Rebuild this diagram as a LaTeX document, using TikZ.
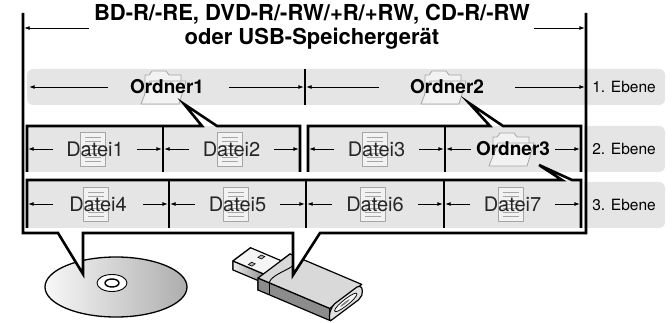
\documentclass[tikz,border=0pt]{standalone}
\usepackage{fontspec}
\setmainfont{TeX Gyre Heros}
\usetikzlibrary{arrows.meta,calc}
\begin{document}
\begin{tikzpicture}[x=1pt,y=-1pt,
  dim/.style={-{Latex[length=5.5pt,width=4pt]}, line width=0.9pt, shorten >=1.2pt},
  tick/.style={line width=1.1pt},
  heavy/.style={line width=2.6pt, line join=miter, line cap=butt},
  rowbg/.style={fill=black!10},
  lvl/.style={font=\fontsize{15.5}{15.5}\selectfont, inner sep=0pt},
  fname/.style={font=\fontsize{20}{20}\selectfont, text=black!85, inner sep=0pt},
  dname/.style={font=\fontsize{19}{19}\selectfont\bfseries, inner sep=0pt},
  icon/.style={draw=black!35, fill=black!5, line width=0.8pt, line join=round},
  titletext/.style={font=\fontsize{22}{24}\selectfont\bfseries, align=center, inner sep=0pt},
  usbedge/.style={draw=black, line width=1.2pt, line join=round},
  folder/.pic={
    \filldraw[icon] (-18,17) -- (-18,-12) -- (-14,-12) -- (-11,-16) -- (3,-16) -- (6,-12) -- (18,-12) -- (18,-6);
    \filldraw[icon] (-22,17) -- (16,17) -- (23,-6) -- (-13,-6) -- cycle;
  },
  doc/.pic={
    \filldraw[icon] (-12.5,-17) rectangle (12.5,17);
    \foreach \yy in {-12,-8,-4,0,4,8,12}
      \draw[draw=black!35, line width=0.8pt] (-8,\yy) -- (8,\yy);
  }
]
\useasboundingbox (0,0) rectangle (672,323);

% ---------- level bands
\fill[rowbg, rounded corners=6pt] (27,69) rectangle (665,105);
\fill[rowbg] (27,126) rectangle (300,172);
\fill[rowbg] (308,126) rectangle (581,172);
\fill[rowbg, rounded corners=6pt] (584,126) rectangle (665,172);
\fill[rowbg] (584,126) rectangle (594,172);
\fill[rowbg] (27,180) rectangle (581,228);
\fill[rowbg, rounded corners=6pt] (584,182) rectangle (665,228);
\fill[rowbg] (584,182) rectangle (594,228);

% ---------- cell boundaries
\coordinate (r1a) at (28,87);
\coordinate (r1b) at (305,87);
\coordinate (r1c) at (586,87);
\coordinate (p0) at (27,149);
\coordinate (p1) at (163,149);
\coordinate (p2) at (300,149);
\coordinate (p3) at (308,149);
\coordinate (p4) at (445,149);
\coordinate (p5) at (581,149);
\coordinate (q0) at (27,204);
\coordinate (q1) at (169,204);
\coordinate (q2) at (306,204);
\coordinate (q3) at (444,204);
\coordinate (q4) at (581,204);

% ---------- icons
\pic at (163,87) {folder};
\pic at (443,87) {folder};
\pic at ($(p4)!0.5!(p5)+(-2,0)$) {folder};
\pic at ($(p0)!0.5!(p1)+(-2,0)$) {doc};
\pic at ($(p1)!0.5!(p2)+(-2,0)$) {doc};
\pic at ($(p3)!0.5!(p4)+(-2,0)$) {doc};
\pic at ($(q0)!0.5!(q1)+(-2,0)$) {doc};
\pic at ($(q1)!0.5!(q2)+(-2,0)$) {doc};
\pic at ($(q2)!0.5!(q3)+(-2,0)$) {doc};
\pic at ($(q3)!0.5!(q4)+(-2,0)$) {doc};

% ---------- names
\node[dname] (o1) at (167,87) {Ordner1};
\node[dname] (o2) at (447,87) {Ordner2};
\node[fname] (d1) at ($(p0)!0.5!(p1)$) {Datei1};
\node[fname] (d2) at ($(p1)!0.5!(p2)$) {Datei2};
\node[fname] (d3) at ($(p3)!0.5!(p4)$) {Datei3};
\node[dname] (o3) at ($(p4)!0.5!(p5)$) {Ordner3};
\node[fname] (d4) at ($(q0)!0.5!(q1)$) {Datei4};
\node[fname] (d5) at ($(q1)!0.5!(q2)$) {Datei5};
\node[fname] (d6) at ($(q2)!0.5!(q3)$) {Datei6};
\node[fname] (d7) at ($(q3)!0.5!(q4)$) {Datei7};
\node[lvl] (e1) at (624,87) {1. Ebene};
\node[lvl] (e2) at (624,149) {2. Ebene};
\node[lvl] (e3) at (624,205) {3. Ebene};

% ---------- brackets with callouts
\fill[white] (202,126) -- (184,104) -- (217,126) -- cycle;
\draw[heavy] (27,172) -- (27,126) -- (202,126) -- (184,104) -- (217,126) -- (300,126) -- (300,172);
\fill[white] (490,126) -- (469,103) -- (503,126) -- cycle;
\draw[heavy] (308,172) -- (308,126) -- (490,126) -- (469,103) -- (503,126) -- (581,126) -- (581,172);
\fill[white] (562,180) -- (539,165) -- (572,180) -- cycle;
\draw[heavy] (27,228) -- (27,180) -- (562,180) -- (539,165) -- (572,180) -- (581,180) -- (581,228);

% ---------- dividers
\draw[tick] ($(r1b)+(0,-18)$) -- ($(r1b)+(0,18)$);
\foreach \c in {p1,p4} \draw[tick] ($(\c)+(0,-23)$) -- ($(\c)+(0,23)$);
\foreach \c in {q1,q2,q3} \draw[tick] ($(\c)+(0,-24)$) -- ($(\c)+(0,24)$);

% ---------- extent arrows
\draw[dim] ($(r1a -| o1.west)+(-22,0)$) -- (r1a);
\draw[dim] ($(r1b -| o1.east)+(25,0)$) -- (r1b);
\draw[dim] ($(r1b -| o2.west)+(-31,0)$) -- (r1b);
\draw[dim] ($(r1c -| o2.east)+(31,0)$) -- (r1c);
\foreach \a/\b in {p0/p1,p1/p2,p3/p4,p4/p5,q0/q1,q1/q2,q2/q3,q3/q4}{
  \draw[dim] ($(\a)+(26,0)$) -- (\a);
  \draw[dim] ($(\b)+(-26,0)$) -- (\b);
}

% ---------- disc
\shade[left color=black!3, right color=black!32, draw=black, line width=1.3pt]
  (116,287) ellipse [x radius=71pt, y radius=30pt];
\filldraw[fill=white, draw=black, line width=0.9pt] (112,283) ellipse [x radius=15pt, y radius=8.5pt];
\filldraw[fill=white, draw=black, line width=1.4pt] (112,283) ellipse [x radius=7pt, y radius=4pt];

% ---------- USB stick (x: along the stick, y: across, z: downwards)
\begin{scope}[shift={(258,278)}, x={(0.92pt,-0.39pt)}, y={(0.8pt,0.6pt)}, z={(0pt,-1pt)}]
  % body face around the plug
  \filldraw[usbedge, fill=black!25] (0,0,0) -- (0,40,0) -- (0,40,12) -- (0,0,12) -- cycle;
  % plug
  \filldraw[usbedge, fill=black!12] (-35,9,2) -- (-35,31,2) -- (-35,31,11) -- (-35,9,11) -- cycle;
  \shade[left color=black!8, right color=black!45, usbedge] (-35,9,2) -- (0,9,2) -- (0,9,11) -- (-35,9,11) -- cycle;
  \filldraw[usbedge, fill=black!4] (-35,9,2) -- (0,9,2) -- (0,31,2) -- (-35,31,2) -- cycle;
  \filldraw[fill=black!30, draw=black, line width=0.6pt] (-21,12,2) -- (-17,12,2) -- (-17,16,2) -- (-21,16,2) -- cycle;
  \filldraw[fill=black!30, draw=black, line width=0.6pt] (-21,24,2) -- (-17,24,2) -- (-17,28,2) -- (-21,28,2) -- cycle;
  % body side and top
  \filldraw[usbedge, fill=black!45] (0,0,0) -- (78,0,0) -- (78,0,12) -- (0,0,12) -- cycle;
  \filldraw[usbedge, fill=black!15] (0,0,0) -- (78,0,0) -- (78,40,0) -- (0,40,0) -- cycle;
  % rounded end cap
  \filldraw[usbedge, fill=black!12] (78,0,12) .. controls (78,-2,4) and (78,2,0) .. (78,6,-1)
     -- (78,34,-1) .. controls (78,40,0) and (78,42,6) .. (78,40,11)
     -- (78,36,13) -- (78,4,13) .. controls (78,1,13) and (78,0,13) .. (78,0,12) -- cycle;
  \filldraw[fill=black!4, draw=black, line width=0.7pt]
     (78,6,6) .. controls (78,6,1) and (78,34,1) .. (78,34,6)
     .. controls (78,34,11) and (78,6,11) .. (78,6,6) -- cycle;
  \fill[black!50] (78,13,6) .. controls (78,13,4.5) and (78,25,4.5) .. (78,25,6)
     .. controls (78,25,7.5) and (78,13,7.5) .. (78,13,6) -- cycle;
  % sleeve edge near the plug
  \draw[line width=0.9pt] (12,0,0) .. controls (5,12,0) and (18,26,0) .. (11,40,0);
  \draw[line width=0.9pt] (12,0,0) -- (12,0,12);
\end{scope}

% ---------- outer frame with pointers
\coordinate (fTL) at (23,13);
\coordinate (fBL) at (23,233);
\coordinate (fBR) at (586,233);
\coordinate (fTR) at (586,13);
\fill[white] (58,233) -- (83,274) -- (83,233) -- cycle;
\fill[white] (293,233) -- (293,275) -- (320,233) -- cycle;
\draw[heavy] (fTL) -- (fBL) -- (58,233) -- (83,274) -- (83,233) -- (293,233) -- (293,275) -- (320,233) -- (fBR) -- (fTR);

% ---------- heading
\node[titletext] (title) at (312,27) {BD-R/-RE, DVD-R/-RW/+R/+RW, CD-R/-RW\\oder USB-Speichergerät};
\coordinate (tA) at (23,28);
\coordinate (tB) at (586,28);
\draw[dim] ($(tA -| title.west)+(-5,0)$) -- (tA);
\draw[dim] ($(tB -| title.east)+(4,0)$) -- (tB);
\end{tikzpicture}
\end{document}
